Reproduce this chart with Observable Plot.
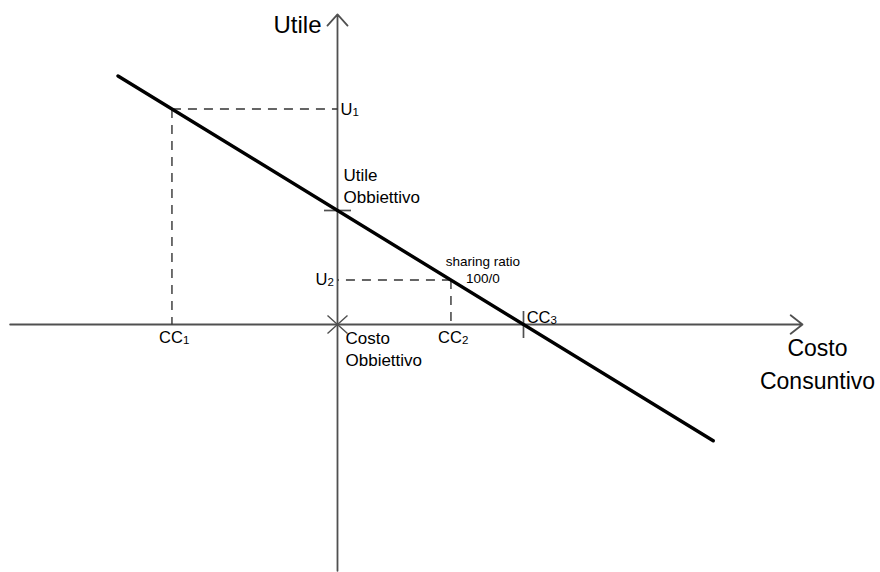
<!DOCTYPE html>
<html><head><meta charset="utf-8">
<script src="https://cdn.jsdelivr.net/npm/d3@7"></script>
<script src="https://cdn.jsdelivr.net/npm/@observablehq/plot@0.6"></script>
<style>html,body{margin:0;padding:0;background:#fff}#chart svg{display:block}</style>
</head><body><div id="chart"></div>
<script>
// Diagram values (sharing ratio 100/0: profit = target profit - (cost - target cost))
const costoObbiettivo = 0;
const utileObbiettivo = 100;
const ccNames = ["CC", "CC", "CC"];
const ccSubs = ["1", "2", "3"];
const ccValues = [-89, 61, 100];
const uNames = ["U", "U"];
const uSubs = ["1", "2"];
const uValues = [189, 39];
const lineX = [-118, 202];
const lineY = [218, -102];
const axisXExtent = [-176, 250];
const axisYExtent = [-216, 272];
const axisTitleX = "Costo\nConsuntivo";
const axisTitleY = "Utile";
const labelUO = "Utile\nObbiettivo";
const labelCO = "Costo\nObbiettivo";
const labelRatio = "sharing ratio\n100/0";

const F = "Liberation Sans, Arial, sans-serif";
const AX = "#505050";
const DASH = "#333";

const lineData = lineX.map((x, i) => ({x, y: lineY[i]}));
const guides = [0, 1].map(i => ({c: ccValues[i], u: uValues[i]}));
const ccData = ccValues.map((c, i) => ({c, name: ccNames[i], sub: ccSubs[i]}));
const uData = uValues.map((u, i) => ({u, name: uNames[i], sub: uSubs[i]}));

function sym(fn) { return {draw(ctx, size) { fn(ctx, Math.sqrt(size / Math.PI)); }}; }
const hBar = sym((c, r) => { c.moveTo(-r, 0); c.lineTo(r, 0); });
const vBar = sym((c, r) => { c.moveTo(0, -r); c.lineTo(0, r); });
const cross = sym((c, r) => { c.moveTo(-r, -r * 0.9); c.lineTo(r, r * 0.9); c.moveTo(-r, r * 0.9); c.lineTo(r, -r * 0.9); });

const chart = Plot.plot({
  width: 880, height: 572,
  margin: 0,
  style: {fontFamily: F, background: "#fff", overflow: "visible"},
  x: {type: "linear", domain: [-181.18, 291.94], range: [0, 880], axis: null},
  y: {type: "linear", domain: [-217.54, 284.21], range: [572, 0], axis: null},
  marks: [
    // axes
    Plot.arrow([{x1: axisXExtent[0], x2: axisXExtent[1], y: costoObbiettivo}],
      {x1: "x1", x2: "x2", y1: "y", y2: "y", stroke: AX, strokeWidth: 1.8, headLength: 12.5, headAngle: 76}),
    Plot.arrow([{y1: axisYExtent[0], y2: axisYExtent[1], x: costoObbiettivo}],
      {x1: "x", x2: "x", y1: "y1", y2: "y2", stroke: AX, strokeWidth: 1.8, headLength: 12.5, headAngle: 84}),
    // dashed guides
    Plot.link(guides, {x1: "c", y1: "u", x2: () => costoObbiettivo, y2: "u", stroke: DASH, strokeWidth: 1.4, strokeDasharray: "9,7"}),
    Plot.link(guides, {x1: "c", y1: "u", x2: "c", y2: () => 0, stroke: DASH, strokeWidth: 1.4, strokeDasharray: "9,7"}),
    // tick marks
    Plot.dot([{x: costoObbiettivo, y: utileObbiettivo}], {x: "x", y: "y", symbol: hBar, r: 13.5, stroke: AX, strokeWidth: 1.7, fill: "none"}),
    Plot.dot([{x: ccValues[2], y: 0}], {x: "x", y: "y", symbol: vBar, r: 13.5, stroke: AX, strokeWidth: 1.7, fill: "none"}),
    Plot.dot([{x: costoObbiettivo, y: 0}], {x: "x", y: "y", symbol: cross, r: 10, stroke: AX, strokeWidth: 1.4, fill: "none"}),
    // sharing line
    Plot.line(lineData, {x: "x", y: "y", stroke: "#000", strokeWidth: 3.4}),
    // axis titles
    Plot.text([{x: costoObbiettivo, y: axisYExtent[1]}], {x: "x", y: "y", text: () => axisTitleY, textAnchor: "end", lineAnchor: "bottom", dx: -16, dy: 19, fontSize: 24, fill: "#000"}),
    Plot.text([{x: axisXExtent[1], y: 0}], {x: "x", y: "y", text: () => axisTitleX, textAnchor: "middle", lineAnchor: "bottom", dx: 15, dy: 64, fontSize: 23, lineHeight: 1.43, fill: "#000"}),
    // annotations
    Plot.text([{x: costoObbiettivo, y: utileObbiettivo}], {x: "x", y: "y", text: () => labelUO, textAnchor: "start", lineAnchor: "bottom", dx: 6, dy: -8, fontSize: 17, lineHeight: 1.29, fill: "#000"}),
    Plot.text([{x: costoObbiettivo, y: 0}], {x: "x", y: "y", text: () => labelCO, textAnchor: "start", lineAnchor: "bottom", dx: 8, dy: 41, fontSize: 17, lineHeight: 1.24, fill: "#000"}),
    Plot.text([guides[1]], {x: "c", y: "u", text: () => labelRatio, textAnchor: "middle", lineAnchor: "bottom", dx: 32, dy: 3, fontSize: 13.5, lineHeight: 1.25, fill: "#000"}),
    // CC labels
    Plot.text(ccData.slice(0, 2), {x: "c", y: () => 0, text: "name", textAnchor: "end", lineAnchor: "bottom", dx: 11, dy: 18, fontSize: 16.5, fill: "#000"}),
    Plot.text(ccData.slice(0, 2), {x: "c", y: () => 0, text: "sub", textAnchor: "start", lineAnchor: "bottom", dx: 11, dy: 19, fontSize: 11.5, fill: "#000"}),
    Plot.text(ccData.slice(2), {x: "c", y: () => 0, text: "name", textAnchor: "end", lineAnchor: "bottom", dx: 27, dy: -2, fontSize: 16.5, fill: "#000"}),
    Plot.text(ccData.slice(2), {x: "c", y: () => 0, text: "sub", textAnchor: "start", lineAnchor: "bottom", dx: 27, dy: -1, fontSize: 11.5, fill: "#000"}),
    // U labels
    Plot.text(uData.slice(0, 1), {x: () => costoObbiettivo, y: "u", text: "name", textAnchor: "end", lineAnchor: "bottom", dx: 15, dy: 6, fontSize: 16.5, fill: "#000"}),
    Plot.text(uData.slice(0, 1), {x: () => costoObbiettivo, y: "u", text: "sub", textAnchor: "start", lineAnchor: "bottom", dx: 15, dy: 7, fontSize: 11.5, fill: "#000"}),
    Plot.text(uData.slice(1), {x: () => costoObbiettivo, y: "u", text: "name", textAnchor: "end", lineAnchor: "bottom", dx: -10, dy: 5, fontSize: 16.5, fill: "#000"}),
    Plot.text(uData.slice(1), {x: () => costoObbiettivo, y: "u", text: "sub", textAnchor: "start", lineAnchor: "bottom", dx: -10, dy: 6, fontSize: 11.5, fill: "#000"})
  ]
});
document.getElementById("chart").appendChild(chart);
</script>
</body></html>
